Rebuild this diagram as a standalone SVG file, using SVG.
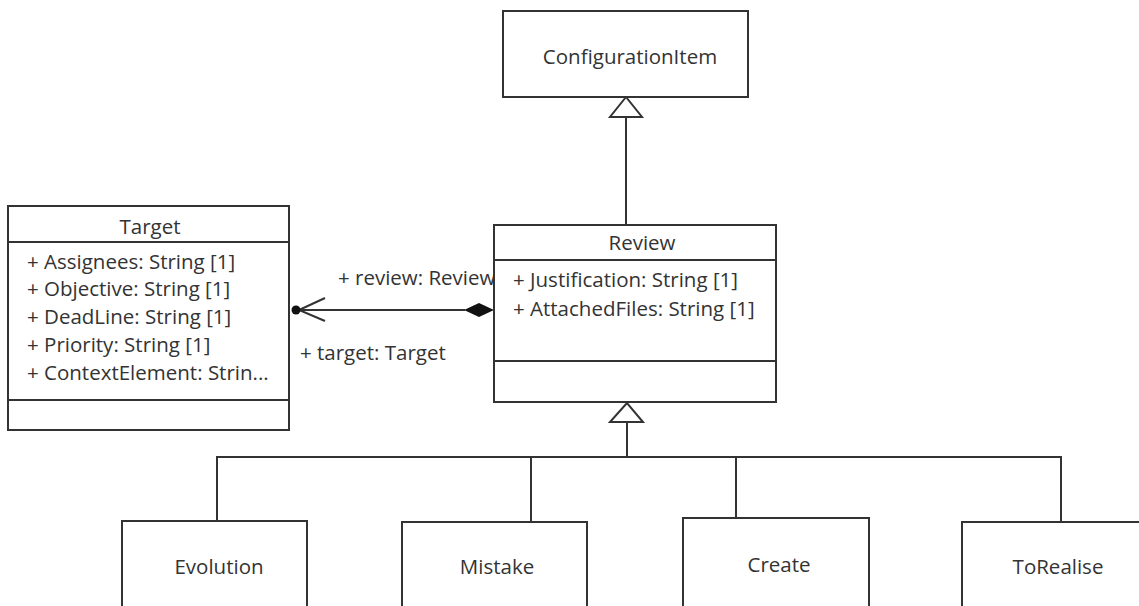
<svg xmlns="http://www.w3.org/2000/svg" width="1139" height="606" viewBox="0 0 1139 606">
<style>
.box{fill:#fff;stroke:#333;stroke-width:2}
.ln{fill:none;stroke:#333;stroke-width:2}
.t{font-family:"Open Sans","Noto Sans","DejaVu Sans",sans-serif;font-size:20.5px;fill:#333}
.c{text-anchor:middle}
</style>
<rect width="1139" height="606" fill="#fff"/>
<g id="connectors">
<path class="ln" d="M626,117 V224"/>
<polygon points="626,97 610,117 642,117" fill="#fff" stroke="#333" stroke-width="2"/>
<path class="ln" d="M627,422 V457 M217,521 V457 H1061 V522 M531,457 V522 M736,457 V518"/>
<polygon points="627,403 610,422 643,422" fill="#fff" stroke="#333" stroke-width="2"/>
<path class="ln" d="M296,310 H465"/>
<path class="ln" d="M325,298 L299,310 L325,321"/>
<circle cx="296" cy="310" r="4.5" fill="#111"/>
<polygon points="494,310 479,303 464,310 479,317" fill="#111"/>
<text class="t" x="338" y="285">+ review: Review</text>
<text class="t" x="300" y="360">+ target: Target</text>
</g>
<g id="ConfigurationItem">
<rect class="box" x="503" y="11" width="245" height="86"/>
<text class="t c" x="630" y="64">ConfigurationItem</text>
</g>
<g id="Target">
<rect class="box" x="8" y="206" width="281" height="224"/>
<path class="ln" d="M8,242 H289 M8,400 H289"/>
<text class="t c" x="150" y="234">Target</text>
<text class="t" x="27" y="269">+ Assignees: String [1]</text>
<text class="t" x="27" y="296">+ Objective: String [1]</text>
<text class="t" x="27" y="324">+ DeadLine: String [1]</text>
<text class="t" x="27" y="352">+ Priority: String [1]</text>
<text class="t" x="27" y="380">+ ContextElement: Strin...</text>
</g>
<g id="Review">
<rect class="box" x="494" y="225" width="282" height="177"/>
<path class="ln" d="M494,260 H776 M494,361 H776"/>
<text class="t c" x="642" y="250">Review</text>
<text class="t" x="513" y="287">+ Justification: String [1]</text>
<text class="t" x="513" y="316">+ AttachedFiles: String [1]</text>
</g>
<g id="Evolution">
<rect class="box" x="122" y="521" width="185" height="100"/>
<text class="t c" x="219" y="574">Evolution</text>
</g>
<g id="Mistake">
<rect class="box" x="402" y="522" width="185" height="100"/>
<text class="t c" x="497" y="574">Mistake</text>
</g>
<g id="Create">
<rect class="box" x="683" y="518" width="186" height="100"/>
<text class="t c" x="779" y="572">Create</text>
</g>
<g id="ToRealise">
<rect class="box" x="962" y="522" width="186" height="100"/>
<text class="t c" x="1058" y="574">ToRealise</text>
</g>
</svg>
